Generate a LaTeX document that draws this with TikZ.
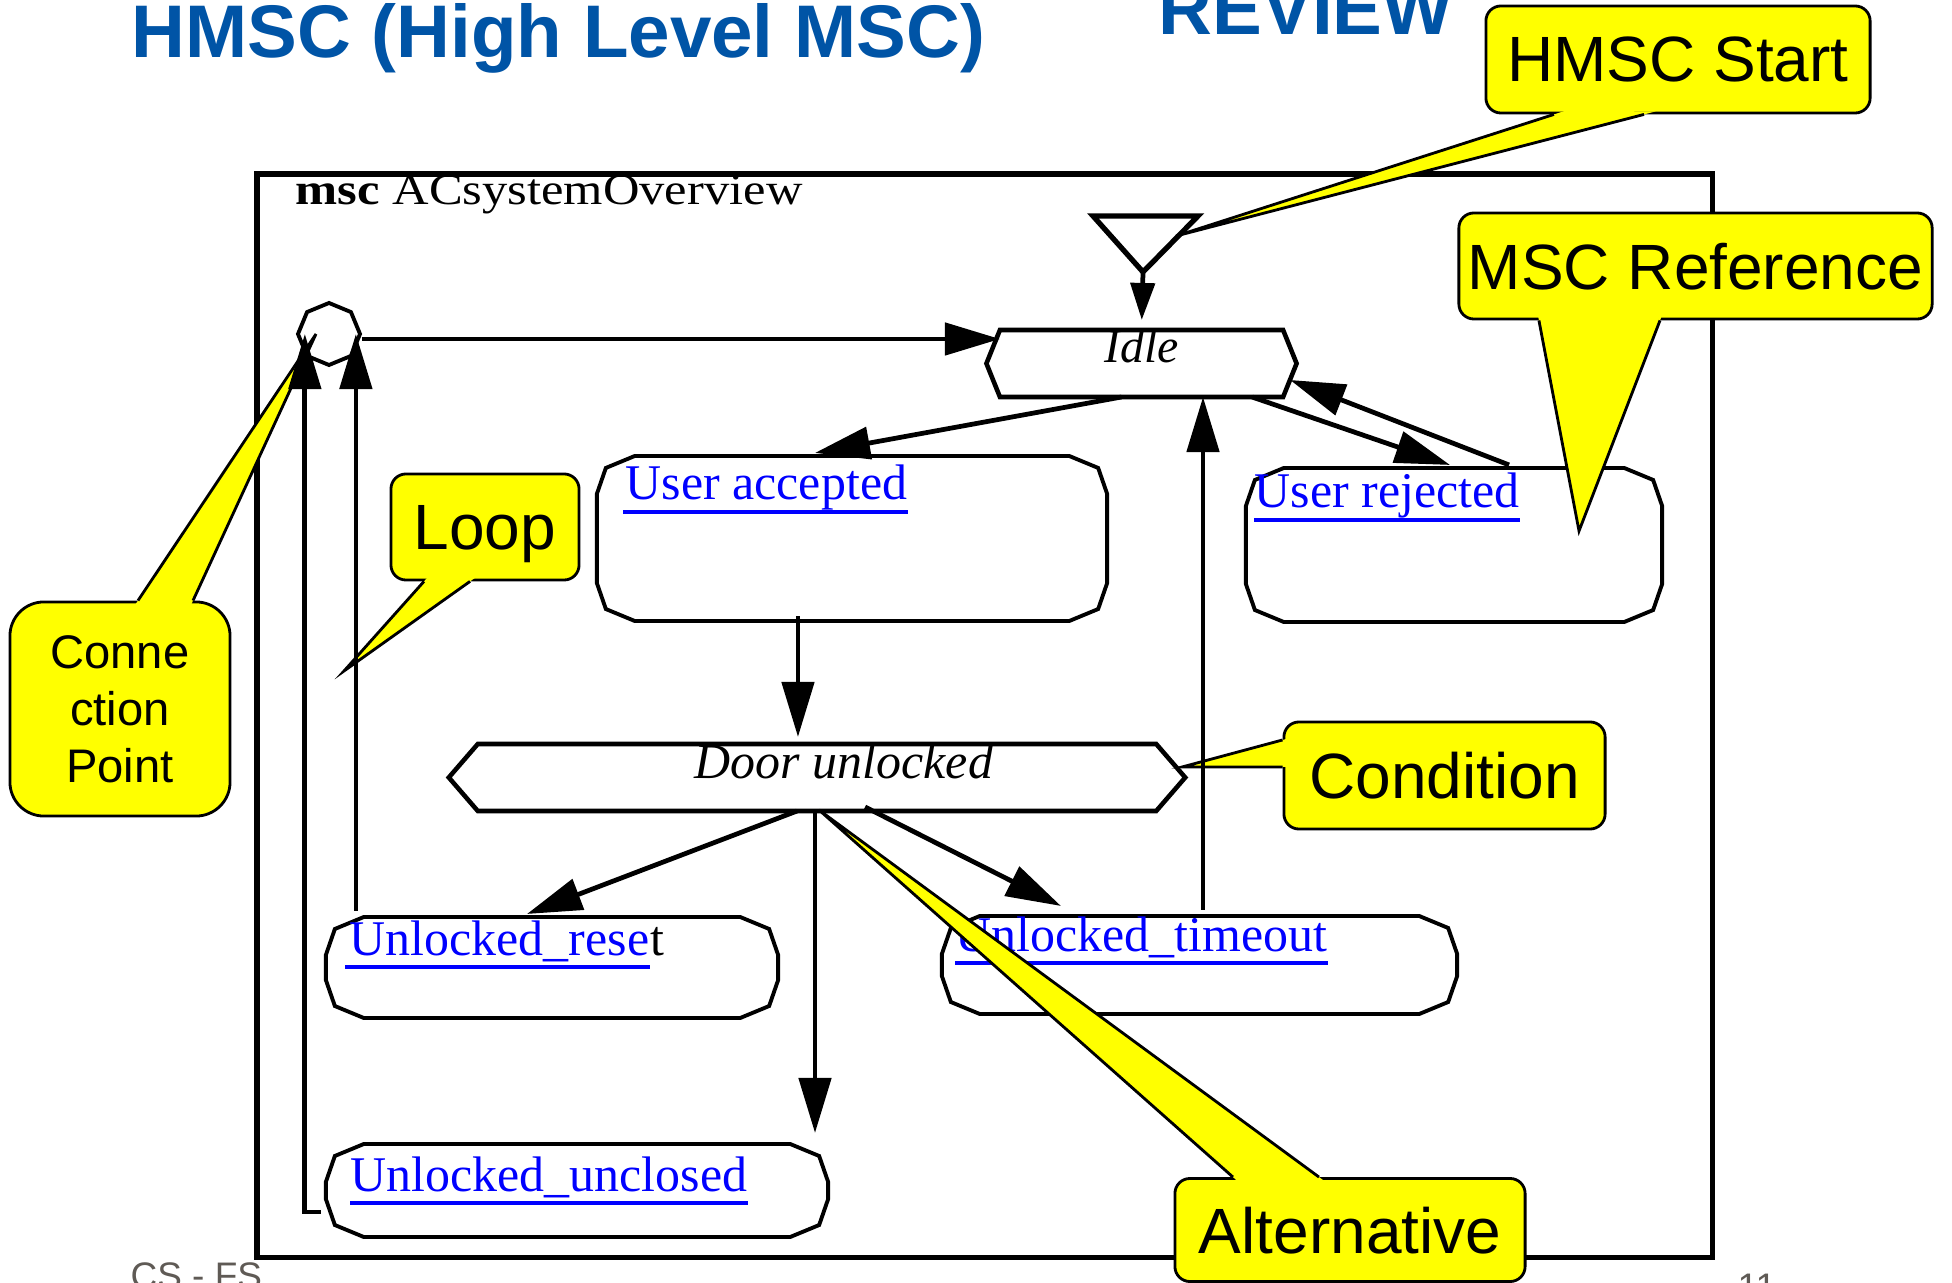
\documentclass[tikz,border=0pt]{standalone}
\usepackage{fontspec}
\usepackage{graphicx}
\setmainfont{Liberation Serif}
\setsansfont{Liberation Sans}
\usetikzlibrary{arrows.meta,calc,shapes.geometric}

\definecolor{titleblue}{RGB}{0,84,166}
\definecolor{linkblue}{RGB}{0,0,255}
\definecolor{noteyellow}{RGB}{255,255,0}
\definecolor{footgray}{RGB}{95,90,85}

% outline of an MSC reference box (rounded corners drawn as short chords)
\newcommand\refoutline[1]{%
  \draw[refline]
    ($(#1.north west)+(0,38)$) -- ($(#1.north west)+(9,12)$) -- ($(#1.north west)+(38,0)$) --
    ($(#1.north east)+(-38,0)$) -- ($(#1.north east)+(-9,12)$) -- ($(#1.north east)+(0,38)$) --
    ($(#1.south east)+(0,-38)$) -- ($(#1.south east)+(-9,-12)$) -- ($(#1.south east)+(-38,0)$) --
    ($(#1.south west)+(38,0)$) -- ($(#1.south west)+(9,-12)$) -- ($(#1.south west)+(0,-38)$) -- cycle;}

% outline of a condition (hexagon with pointed ends)
\newcommand\condoutline[3]{%
  \draw[#3] (#1.north west) -- (#1.north east) -- ([xshift=#2]#1.east) --
    (#1.south east) -- (#1.south west) -- ([xshift=-#2]#1.west) -- cycle;}

% wedge of a yellow note: base points #1, #2 on the box edge, tip #3
\newcommand\notepointer[3]{%
  \fill[noteyellow] ($(#1)!-0.12cm!(#3)$) -- (#3) -- ($(#2)!-0.12cm!(#3)$) -- cycle;
  \draw[noteline] (#1) -- (#3) -- (#2);}

\begin{document}
\begin{tikzpicture}[x=0.01cm,y=-0.01cm,
  conn/.style={line width=1.35pt,-{Triangle[length=0.55cm,width=0.32cm]}},
  smallconn/.style={line width=1.35pt,-{Triangle[length=0.37cm,width=0.24cm]}},
  refbox/.style={rectangle,inner sep=0pt,outer sep=0pt},
  refline/.style={line width=1.1pt,line join=miter},
  condline/.style={line width=1.3pt,line join=miter},
  linktext/.style={anchor=base west,inner sep=0pt,text=linkblue,
    font=\fontsize{14.2pt}{16pt}\selectfont},
  uline/.style={draw=linkblue,line width=1.3pt},
  condtext/.style={anchor=base,inner sep=0pt,font=\itshape\fontsize{13.6pt}{16pt}\selectfont},
  note/.style={draw,fill=noteyellow,line width=0.8pt,rounded corners=0.15cm,inner sep=0pt,
    text depth=0pt,font=\sffamily\fontsize{18.2pt}{20pt}\selectfont},
  noteline/.style={line width=0.8pt,line join=miter}]

\useasboundingbox (0,0) rectangle (1952,1283);
\clip (0,0) rectangle (1952,1283);
\fill[white] (0,0) rectangle (1952,1283);

% slide headings
\node[anchor=base west,inner sep=0pt,text=titleblue,
  font=\sffamily\bfseries\fontsize{21.2pt}{24pt}\selectfont] (title) at (131,58) {HMSC (High Level MSC)};
\node[anchor=base west,inner sep=0pt,text=titleblue,
  font=\sffamily\bfseries\fontsize{21.2pt}{24pt}\selectfont] (review) at (1158,35) {REVIEW};

% footer
\node[anchor=base west,inner sep=0pt,text=footgray,
  font=\sffamily\fontsize{10.5pt}{12pt}\selectfont] (foot) at (130,1288) {CS - FS};
\node[anchor=base west,inner sep=0pt,text=footgray,
  font=\sffamily\fontsize{10.5pt}{12pt}\selectfont] (page) at (1737,1299) {11};

% MSC frame and its heading
\node[draw,line width=1.6pt,rectangle,inner sep=0pt,minimum width=14.55cm,minimum height=10.83cm,
  anchor=north west] (frame) at (254,171) {};
\node[anchor=base west,inner sep=0pt] (msctitle) at (295,205)
  {\scalebox{1.15}[1]{\fontsize{12.5pt}{14pt}\selectfont\textbf{msc} ACsystemOverview}};

% start symbol and connection point
\coordinate (start) at (1143,272);
\draw[line width=1.5pt,line join=miter] (1093,216) -- (1198,216) -- (start) -- cycle;
\node[draw,regular polygon,regular polygon sides=8,shape border rotate=22.5,
  minimum size=0.62cm,inner sep=0pt,line width=1.1pt] (cp) at (329,334) {};

% conditions
\node[refbox,minimum width=2.83cm,minimum height=0.67cm] (idle) at (1141.5,363.5) {};
\condoutline{idle}{0.135cm}{condline}
\node[condtext] (idle-t) at (1142,363) {Idle};

\node[refbox,minimum width=6.78cm,minimum height=0.67cm] (door) at (817,777.5) {};
\condoutline{door}{0.29cm}{condline}
\node[condtext,font=\itshape\fontsize{14.2pt}{16pt}\selectfont] (door-t) at (844,778) {Door unlocked};

% MSC references
\node[refbox,minimum width=5.10cm,minimum height=1.65cm] (ua) at (852,538.5) {};
\refoutline{ua}
\node[linktext] (ua-t) at (625,500) {User accepted};
\draw[uline] ($(ua-t.base west)+(-2,12)$) -- ($(ua-t.base east)+(0,12)$);

\node[refbox,minimum width=4.16cm,minimum height=1.54cm] (ur) at (1454,545) {};
\refoutline{ur}
\node[linktext] (ur-t) at (1254,508) {User rejected};
\draw[uline] ($(ur-t.base west)+(0,12)$) -- ($(ur-t.base east)+(0,12)$);

\node[refbox,minimum width=4.52cm,minimum height=1.01cm] (reset) at (552,967.5) {};
\refoutline{reset}
\node[linktext] (reset-t) at (349,955) {Unlocked\_rese};
\node[anchor=base west,inner sep=0pt,font=\fontsize{14.2pt}{16pt}\selectfont] (reset-t2) at (reset-t.base east) {t};
\draw[uline] ($(reset-t.base west)+(-4,12)$) -- ($(reset-t.base east)+(0,12)$);

\node[refbox,minimum width=5.15cm,minimum height=0.98cm] (timeout) at (1199.5,965) {};
\refoutline{timeout}
\node[linktext] (timeout-t) at (955,951) {Unlocked\_timeout};
\draw[uline] ($(timeout-t.base west)+(0,12)$) -- ($(timeout-t.base east)+(0,12)$);

\node[refbox,minimum width=5.02cm,minimum height=0.93cm] (unclosed) at (577,1190.5) {};
\refoutline{unclosed}
\node[linktext] (unclosed-t) at (350,1191) {Unlocked\_unclosed};
\draw[uline] ($(unclosed-t.base west)+(0,12)$) -- ($(unclosed-t.base east)+(0,12)$);

% yellow notes
\node[note,minimum width=3.84cm,minimum height=1.07cm] (hs) at (1678,59.5) {HMSC Start};
\coordinate (hs-a) at ([xshift=-1.24cm]hs.south);
\coordinate (hs-b) at ([xshift=-0.34cm]hs.south);
\coordinate (hs-tip) at (1176,236);
\notepointer{hs-a}{hs-b}{hs-tip}

\node[note,minimum width=4.73cm,minimum height=1.06cm] (mr) at (1695.5,266) {MSC Reference};
\coordinate (mr-a) at ([xshift=-1.565cm]mr.south);
\coordinate (mr-b) at ([xshift=-0.355cm]mr.south);
\coordinate (mr-tip) at (1579,531);
\notepointer{mr-a}{mr-b}{mr-tip}

\node[note,minimum width=2.20cm,minimum height=2.14cm,rounded corners=0.34cm,align=center,
  font=\sffamily\fontsize{13.4pt}{16.2pt}\selectfont] (cpn) at (120,709) {Conne\\ction\\Point};
\coordinate (cpn-a) at ([xshift=0.18cm]cpn.north);
\coordinate (cpn-b) at ([xshift=0.73cm]cpn.north);
\coordinate (cpn-tip) at (316,334);
\notepointer{cpn-a}{cpn-b}{cpn-tip}

\node[note,minimum width=1.88cm,minimum height=1.06cm] (loop) at (485,527) {Loop};
\coordinate (loop-a) at ([xshift=-0.61cm]loop.south);
\coordinate (loop-b) at ([xshift=-0.15cm]loop.south);
\coordinate (loop-tip) at (344,671);
\notepointer{loop-a}{loop-b}{loop-tip}

\node[note,minimum width=3.21cm,minimum height=1.07cm] (cond) at (1444.5,775.5) {Condition};
\coordinate (cond-a) at ([yshift=0.355cm]cond.west);
\coordinate (cond-b) at ([yshift=0.085cm]cond.west);
\coordinate (cond-tip) at (1182,767);
\notepointer{cond-a}{cond-b}{cond-tip}

\node[note,minimum width=3.50cm,minimum height=1.03cm] (alt) at (1350,1230) {Alternative};
\coordinate (alt-a) at ([xshift=-1.17cm]alt.north);
\coordinate (alt-b) at ([xshift=-0.31cm]alt.north);
\coordinate (alt-tip) at (819,810);
\notepointer{alt-a}{alt-b}{alt-tip}

% connectors
\draw[smallconn,shorten >=0.1cm] (start) -- (idle.north);
\draw[conn] ([yshift=-0.05cm]cp.east) -- ([yshift=-0.05cm]cp.east -| idle.west);
\draw[conn] ([xshift=-0.2cm]idle.south) -- ([xshift=-0.37cm,yshift=0.03cm]ua.north);
\draw[conn] ([xshift=-0.31cm]idle.south east) -- ([xshift=-0.04cm,yshift=0.03cm]ur.north);
\draw[conn] ([xshift=0.55cm,yshift=0.03cm]ur.north) -- ([xshift=0.07cm,yshift=-0.165cm]idle.east);
\draw[conn,shorten >=0.07cm] ([xshift=-0.54cm,yshift=0.05cm]ua.south) -- ([xshift=-0.54cm]ua.south |- door.north);
\draw[conn] ([xshift=-0.2cm]door.south) -- ([xshift=-0.25cm,yshift=0.03cm]reset.north);
\draw[conn] ([xshift=0.48cm,yshift=0.04cm]door.south) -- ([xshift=-1.385cm,yshift=0.1cm]timeout.north);
\draw[conn,shorten >=0.11cm] ([xshift=-0.02cm]door.south) -- ([xshift=-0.02cm]door.south |- unclosed.north);
\draw[conn] ([xshift=0.035cm,yshift=0.06cm]timeout.north) -- ([xshift=0.035cm]timeout.north |- idle.south);
\draw[conn] ([xshift=0.3cm,yshift=0.06cm]reset.north west) -- ([xshift=0.3cm]reset.north west |- cp.east);
\coordinate (ucout) at ([xshift=-0.05cm,yshift=-0.215cm]unclosed.west);
\draw[conn] (ucout) -- ++(-16,0) coordinate (uccorner) -- (uccorner |- cp.west);
\end{tikzpicture}
\end{document}
